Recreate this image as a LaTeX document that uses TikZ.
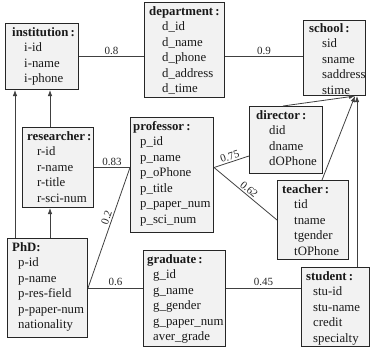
\documentclass[tikz,border=0pt]{standalone}
\usepackage{fontspec}
\setmainfont{Liberation Serif}
\usetikzlibrary{arrows.meta}
\newcommand\ind[1]{\hspace*{#1pt}}
\tikzset{
  entity/.style={draw=black!85, fill=black!5, line width=1pt, inner sep=0pt,
    anchor=north west},
  fields/.style={anchor=north west, align=left, inner sep=0pt,
    font=\fontsize{12.8}{15.5}\selectfont, text=black!90},
  link/.style={draw=black!75, line width=0.8pt},
  isa/.style={draw=black!75, line width=0.8pt, -{Latex[length=6pt,width=4.5pt]}},
  lbl/.style={font=\fontsize{11}{13}\selectfont, text=black!85, inner sep=1.5pt},
}
\begin{document}
\begin{tikzpicture}[x=1pt, y=-1pt]
\useasboundingbox (0,0) rectangle (372,349);

% entity boxes
\node[entity, minimum width=73pt, minimum height=66pt] (inst) at (5,23) {};
\node[fields] (inst-t) at ([xshift=7pt,yshift=-4pt]inst.north west)
  {\textbf{institution\,:}\\\ind{12}i-id\\\ind{12}i-name\\\ind{12}i-phone};

\node[entity, minimum width=80pt, minimum height=95pt] (dept) at (144,2) {};
\node[fields] (dept-t) at ([xshift=5pt,yshift=-4pt]dept.north west)
  {\textbf{department\,:}\\\ind{13}d\_id\\\ind{13}d\_name\\\ind{13}d\_phone\\\ind{13}d\_address\\\ind{13}d\_time};

\node[entity, minimum width=62pt, minimum height=75pt] (school) at (303,20) {};
\node[fields] (school-t) at ([xshift=6pt,yshift=-3pt]school.north west)
  {\textbf{school\,:}\\\ind{13}sid\\\ind{13}sname\\\ind{13}saddress\\\ind{13}stime};

\node[entity, minimum width=71pt, minimum height=80pt] (res) at (22,127) {};
\node[fields] (res-t) at ([xshift=5pt,yshift=-4pt]res.north west)
  {\textbf{researcher\,:}\\\ind{10}r-id\\\ind{10}r-name\\\ind{10}r-title\\\ind{10}r-sci-num};

\node[entity, minimum width=83pt, minimum height=115pt] (prof) at (130,117) {};
\node[fields] (prof-t) at ([xshift=3pt,yshift=-4pt]prof.north west)
  {\textbf{professor\,:}\\\ind{7}p\_id\\\ind{7}p\_name\\\ind{7}p\_oPhone\\\ind{7}p\_title\\\ind{7}p\_paper\_num\\\ind{7}p\_sci\_num};

\node[entity, minimum width=73pt, minimum height=67pt] (dir) at (249,106) {};
\node[fields] (dir-t) at ([xshift=7pt,yshift=-4pt]dir.north west)
  {\textbf{director\,:}\\\ind{13}did\\\ind{13}dname\\\ind{13}dOPhone};

\node[entity, minimum width=71pt, minimum height=79pt] (teach) at (277,180) {};
\node[fields] (teach-t) at ([xshift=5pt,yshift=-4pt]teach.north west)
  {\textbf{teacher\,:}\\\ind{12}tid\\\ind{12}tname\\\ind{12}tgender\\\ind{12}tOPhone};

\node[entity, minimum width=68pt, minimum height=79pt] (stud) at (301,267) {};
\node[fields] (stud-t) at ([xshift=5pt,yshift=-4pt]stud.north west)
  {\textbf{student\,:}\\\ind{7}stu-id\\\ind{7}stu-name\\\ind{7}credit\\\ind{7}specialty};

\node[entity, minimum width=80pt, minimum height=99pt] (phd) at (7,238) {};
\node[fields] (phd-t) at ([xshift=5pt,yshift=-4pt]phd.north west)
  {\textbf{PhD:}\\\ind{6}p-id\\\ind{6}p-name\\\ind{6}p-res-field\\\ind{6}p-paper-num\\\ind{6}nationality};

\node[entity, minimum width=82pt, minimum height=96pt] (grad) at (143,250) {};
\node[fields] (grad-t) at ([xshift=4pt,yshift=-4pt]grad.north west)
  {\textbf{graduate\,:}\\\ind{6}g\_id\\\ind{6}g\_name\\\ind{6}g\_gender\\\ind{6}g\_paper\_num\\\ind{6}aver\_grade};

% junction points
\coordinate (pl) at (res.east -| prof.west);
\coordinate (pr) at (prof.east |- res.east);
\coordinate (tip) at ([xshift=-11pt]school.south east);

% weighted associations
\draw[link] (inst.east) -- node[lbl, above] {0.8} (inst.east -| dept.west);
\draw[link] (dept.east |- inst.east) -- node[lbl, above] {0.9} (school.west |- inst.east);
\draw[link] (res.east) -- node[lbl, above] {0.83} (pl);
\draw[link] (phd.east) -- node[lbl, pos=0.57, sloped, above] {0.2} (pl);
\draw[link] (pr) -- node[lbl, sloped, above] {0.75} ([yshift=18pt]dir.south west);
\draw[link] (pr) -- node[lbl, pos=0.5, sloped, above] {0.62} (teach.west);
\draw[link] (phd.east) -- node[lbl, above] {0.6} (phd.east -| grad.west);
\draw[link] (grad.east |- phd.east) -- node[lbl, above] {0.45} (stud.west |- phd.east);

% generalisation arrows
\coordinate (pa) at ([xshift=8pt]phd.north west);
\coordinate (ra) at ([xshift=28pt]res.south west);
\draw[isa] (pa) -- (pa |- inst.south);
\draw[isa] (phd.north -| ra) -- (ra);
\draw[isa] (res.north -| ra) -- (ra |- inst.south);
\draw[isa] ([xshift=34pt]dir.north west) -- (tip);
\draw[isa] ([xshift=45pt]teach.north west) -- (tip);
\coordinate (sa) at ([xshift=56pt]stud.north west);
\draw[isa] (sa) -- (sa |- school.south);
\end{tikzpicture}
\end{document}
